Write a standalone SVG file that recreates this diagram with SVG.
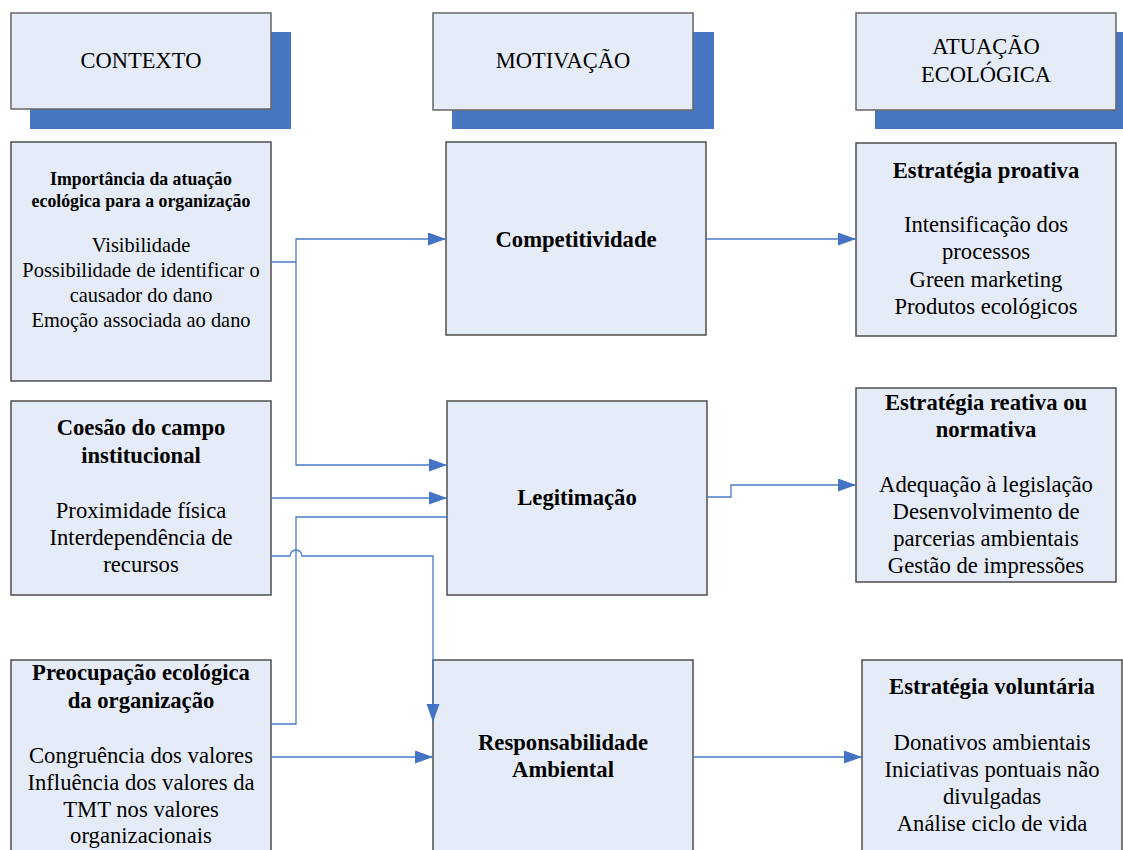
<svg xmlns="http://www.w3.org/2000/svg" width="1123" height="850" viewBox="0 0 1123 850">
  <style>
    .shadow { fill: #4877c1; }
    .box { fill: #e6ecf7; stroke: #4d4d4d; stroke-width: 1.5; }
    .head { fill: #e6ecf7; stroke: #666; stroke-width: 1.5; }
    text { font-family: "Liberation Serif", "Times New Roman", serif; fill: #000; text-anchor: middle; }
    .h { font-size: 22.5px; }
    .t { font-size: 22.67px; font-weight: bold; }
    .b { font-size: 22.67px; }
    .t1 { font-size: 17.8px; font-weight: bold; }
    .b1 { font-size: 20.4px; }
    .link { fill: none; stroke: #4a7bc6; stroke-width: 1.3; }
  </style>
  <defs>
    <marker id="arrow" markerUnits="userSpaceOnUse" markerWidth="20" markerHeight="14" refX="18" refY="6.5" orient="auto">
      <path d="M0,0 L18,6.5 L0,13 Z" fill="#4472c4"/>
    </marker>
  </defs>

  <!-- column headers -->
  <g id="h-contexto">
    <rect class="shadow" x="30" y="32" width="261" height="97"/>
    <rect class="head" x="11" y="13" width="260" height="96"/>
    <text class="h" x="141" y="68">CONTEXTO</text>
  </g>
  <g id="h-motivacao">
    <rect class="shadow" x="452" y="32" width="262" height="97"/>
    <rect class="head" x="433" y="13" width="260" height="97"/>
    <text class="h" x="563" y="68">MOTIVAÇÃO</text>
  </g>
  <g id="h-atuacao">
    <rect class="shadow" x="875" y="32" width="250" height="97"/>
    <rect class="head" x="856" y="13" width="260" height="97"/>
    <text class="h" x="986" y="54">ATUAÇÃO</text>
    <text class="h" x="986" y="82">ECOLÓGICA</text>
  </g>

  <!-- context column -->
  <g id="importancia">
    <rect class="box" x="11" y="142" width="260" height="239"/>
    <text class="t1" x="141" y="185">Importância da atuação</text>
    <text class="t1" x="141" y="207">ecológica para a organização</text>
    <text class="b1" x="141" y="252">Visibilidade</text>
    <text class="b1" x="141" y="277">Possibilidade de identificar o</text>
    <text class="b1" x="141" y="302">causador do dano</text>
    <text class="b1" x="141" y="327">Emoção associada ao dano</text>
  </g>
  <g id="coesao">
    <rect class="box" x="11" y="401" width="260" height="194"/>
    <text class="t" x="141" y="435">Coesão do campo</text>
    <text class="t" x="141" y="463">institucional</text>
    <text class="b" x="141" y="518">Proximidade física</text>
    <text class="b" x="141" y="545">Interdependência de</text>
    <text class="b" x="141" y="572">recursos</text>
  </g>
  <g id="preocupacao">
    <rect class="box" x="11" y="660" width="260" height="200"/>
    <text class="t" x="141" y="680">Preocupação ecológica</text>
    <text class="t" x="141" y="708">da organização</text>
    <text class="b" x="141" y="763">Congruência dos valores</text>
    <text class="b" x="141" y="790">Influência dos valores da</text>
    <text class="b" x="141" y="817">TMT nos valores</text>
    <text class="b" x="141" y="843">organizacionais</text>
  </g>

  <!-- motivation column -->
  <g id="competitividade">
    <rect class="box" x="446" y="142" width="260" height="193"/>
    <text class="t" x="576" y="247">Competitividade</text>
  </g>
  <g id="legitimacao">
    <rect class="box" x="447" y="401" width="260" height="194"/>
    <text class="t" x="577" y="505">Legitimação</text>
  </g>
  <g id="responsabilidade">
    <rect class="box" x="433" y="660" width="260" height="200"/>
    <text class="t" x="563" y="750">Responsabilidade</text>
    <text class="t" x="563" y="777">Ambiental</text>
  </g>

  <!-- ecological action column -->
  <g id="proativa">
    <rect class="box" x="856" y="143" width="260" height="193"/>
    <text class="t" x="986" y="178">Estratégia proativa</text>
    <text class="b" x="986" y="232">Intensificação dos</text>
    <text class="b" x="986" y="259">processos</text>
    <text class="b" x="986" y="287">Green marketing</text>
    <text class="b" x="986" y="314">Produtos ecológicos</text>
  </g>
  <g id="reativa">
    <rect class="box" x="856" y="388" width="260" height="194"/>
    <text class="t" x="986" y="410">Estratégia reativa ou</text>
    <text class="t" x="986" y="437">normativa</text>
    <text class="b" x="986" y="492">Adequação à legislação</text>
    <text class="b" x="986" y="519">Desenvolvimento de</text>
    <text class="b" x="986" y="546">parcerias ambientais</text>
    <text class="b" x="986" y="573">Gestão de impressões</text>
  </g>
  <g id="voluntaria">
    <rect class="box" x="862" y="660" width="260" height="200"/>
    <text class="t" x="992" y="694">Estratégia voluntária</text>
    <text class="b" x="992" y="750">Donativos ambientais</text>
    <text class="b" x="992" y="777">Iniciativas pontuais não</text>
    <text class="b" x="992" y="804">divulgadas</text>
    <text class="b" x="992" y="831">Análise ciclo de vida</text>
  </g>

  <!-- connectors -->
  <g id="connectors">
    <path class="link" d="M271,262 H296 V239 H446" marker-end="url(#arrow)"/>
    <path class="link" d="M296,262 V465 H447" marker-end="url(#arrow)"/>
    <path class="link" d="M271,498 H447" marker-end="url(#arrow)"/>
    <path class="link" d="M447,517 H296 V724 H271"/>
    <path class="link" d="M271,556 H290 A6,6 0 0 1 302,556 H433 V722" marker-end="url(#arrow)"/>
    <path class="link" d="M271,757 H433" marker-end="url(#arrow)"/>
    <path class="link" d="M706,239 H856" marker-end="url(#arrow)"/>
    <path class="link" d="M707,497 H731 V485 H856" marker-end="url(#arrow)"/>
    <path class="link" d="M693,757 H862" marker-end="url(#arrow)"/>
  </g>
</svg>
